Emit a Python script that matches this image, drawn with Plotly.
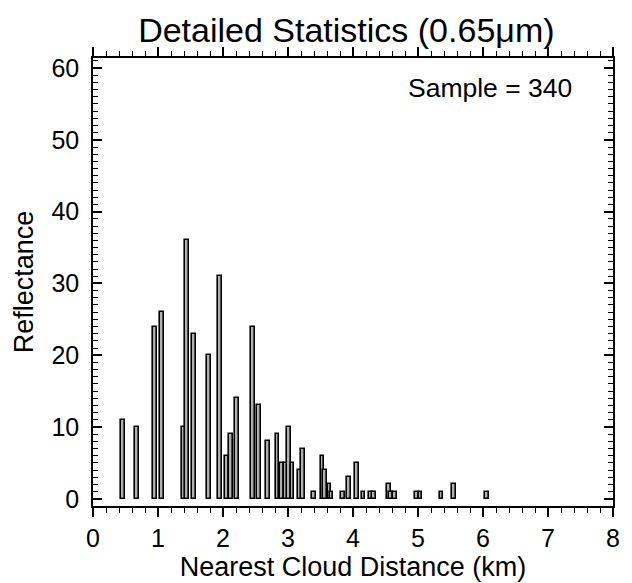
import plotly.graph_objects as go

distance_km = [0.46, 0.68, 0.95, 1.06, 1.40, 1.45, 1.55, 1.78, 1.95, 2.06, 2.12, 2.22,
               2.46, 2.55, 2.69, 2.84, 2.91, 2.97, 3.02, 3.07, 3.19, 3.23, 3.40, 3.53,
               3.57, 3.64, 3.67, 3.85, 3.94, 4.06, 4.16, 4.28, 4.32, 4.55, 4.58, 4.65,
               4.98, 5.04, 5.36, 5.55, 6.06]
reflectance = [11, 10, 24, 26, 10, 36, 23, 20, 31, 6, 9, 14,
               24, 13, 8, 9, 5, 5, 10, 5, 4, 7, 1, 6,
               4, 2, 1, 1, 3, 5, 1, 1, 1, 2, 1, 1,
               1, 1, 1, 2, 1]
x_ticks = [0, 1, 2, 3, 4, 5, 6, 7, 8]
y_ticks = [0, 10, 20, 30, 40, 50, 60]

FONT = "Liberation Sans, Arial, Helvetica, sans-serif"

fig = go.Figure()
fig.add_trace(go.Bar(
    x=distance_km, y=reflectance, width=0.058,
    marker=dict(color="#b0b0b0", line=dict(color="black", width=1.6)),
    showlegend=False,
))

fig.update_layout(
    width=632, height=583,
    margin=dict(l=93, r=15, t=58, b=76),
    paper_bgcolor="white", plot_bgcolor="white",
    font=dict(family=FONT, color="black", size=25),
    title=dict(text="Detailed Statistics (0.65\u03bcm)", x=0.548, xanchor="center",
               xref="container", y=0.948, yanchor="middle", font=dict(size=34)),
    bargap=0,
    annotations=[dict(text="Sample = 340", xref="paper", yref="paper",
                      x=0.925, y=0.933, xanchor="right", yanchor="middle",
                      showarrow=False, font=dict(size=26.5))],
)

fig.update_xaxes(
    range=[0, 8], tickvals=x_ticks, ticktext=[str(v) for v in x_ticks],
    showline=True, linecolor="black", linewidth=1.5, mirror="ticks",
    ticks="outside", ticklen=9, tickwidth=1.5, tickcolor="black",
    minor=dict(dtick=0.2, ticks="outside", ticklen=5, tickwidth=1, tickcolor="black"),
    showgrid=False, zeroline=False,
    title=dict(text="Nearest Cloud Distance (km)", standoff=0, font=dict(size=27)),
    tickfont=dict(size=25),
)
fig.update_yaxes(
    range=[-1, 61.4], tickvals=y_ticks, ticktext=[str(v) for v in y_ticks],
    showline=True, linecolor="black", linewidth=1.5, mirror="ticks",
    ticks="inside", ticklen=9, tickwidth=1.5, tickcolor="black",
    minor=dict(dtick=1, tick0=0, ticks="inside", ticklen=5, tickwidth=1, tickcolor="black"),
    showgrid=False, zeroline=False, ticklabelstandoff=7,
    title=dict(text="Reflectance", standoff=10, font=dict(size=27)),
    tickfont=dict(size=25),
)

fig.write_html("out.html")
